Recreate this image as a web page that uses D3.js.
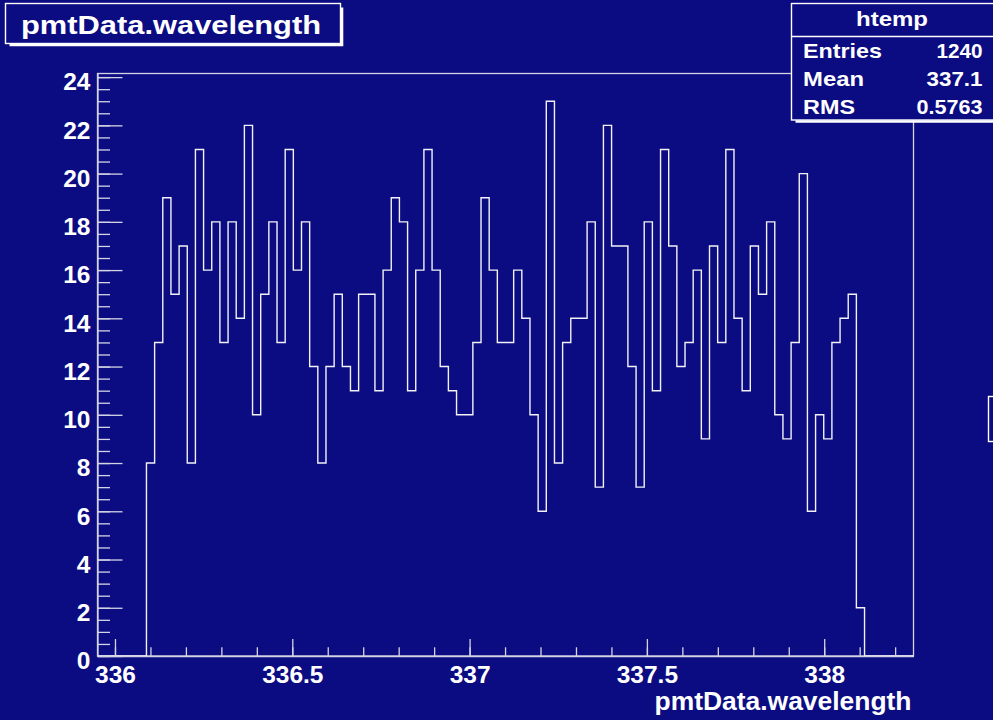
<!DOCTYPE html>
<html>
<head>
<meta charset="utf-8">
<script src="https://cdn.jsdelivr.net/npm/d3@7/dist/d3.min.js"></script>
<style>
  html, body { margin: 0; padding: 0; background: #0b0b82; }
  svg { display: block; }
  text { font-family: "Liberation Sans", Arial, Helvetica, sans-serif; font-weight: bold; fill: #ffffff; }
</style>
</head>
<body>
<div id="chart"></div>
<script>
// histogram range (100 bins), as in the ROOT "htemp" histogram
const xMin = 335.9507;
const xMax = 338.2518;
const yMax = 24.15;

// bin contents (6 empty bins at each end)
const binCounts = [
  0, 0, 0, 0, 0, 0,
  8, 13, 19, 15, 17, 8, 21, 16, 18, 13,
  18, 14, 22, 10, 15, 18, 13, 21, 16, 18,
  12, 8, 12, 15, 12, 11, 15, 15, 11, 16,
  19, 18, 11, 16, 21, 16, 12, 11, 10, 10,
  13, 19, 16, 13, 13, 16, 14, 10, 6, 23,
  8, 13, 14, 14, 18, 7, 22, 17, 17, 12,
  7, 18, 11, 21, 17, 12, 13, 16, 9, 17,
  13, 21, 14, 11, 17, 15, 18, 10, 9, 13,
  20, 6, 10, 9, 13, 14, 15, 2,
  0, 0, 0, 0, 0, 0
];

const xMajorTicks = [336, 336.5, 337, 337.5, 338];
const yMajorTicks = [0, 2, 4, 6, 8, 10, 12, 14, 16, 18, 20, 22, 24];

const titleText = "pmtData.wavelength";
const xAxisTitle = "pmtData.wavelength";
const statsName = "htemp";
const statLabels = ["Entries", "Mean", "RMS"];
const statValues = ["1240", "337.1", "0.5763"];

const width = 993, height = 720;
const margin = { left: 97.5, right: 79.5, top: 73.5, bottom: 64 };
const bg = "#0b0b82";
const lineCol = "#d4d4e4";

const svg = d3.select("#chart").append("svg")
  .attr("width", width)
  .attr("height", height);

svg.append("rect")
  .attr("width", width)
  .attr("height", height)
  .attr("fill", bg);

const x = d3.scaleLinear().domain([xMin, xMax]).range([margin.left, width - margin.right]);
const y = d3.scaleLinear().domain([0, yMax]).range([height - margin.bottom, margin.top]);

// frame
svg.append("rect")
  .attr("x", x(xMin))
  .attr("y", y(yMax))
  .attr("width", x(xMax) - x(xMin))
  .attr("height", y(0) - y(yMax))
  .attr("fill", "none")
  .attr("stroke", lineCol)
  .attr("stroke-width", 1.3);

// histogram outline
const binW = (xMax - xMin) / binCounts.length;
const pts = binCounts.map((c, i) => [xMin + i * binW, c]);
pts.push([xMax, binCounts[binCounts.length - 1]]);

svg.append("path")
  .datum(pts)
  .attr("fill", "none")
  .attr("stroke", "#f2f2f6")
  .attr("stroke-width", 1.4)
  .attr("d", d3.line()
    .x(d => x(d[0]))
    .y(d => y(d[1]))
    .curve(d3.curveStepAfter));

// faint blurred dark smear near the bottom of the plot
const defs = svg.append("defs");
defs.append("filter")
  .attr("id", "smear")
  .attr("x", "-20%").attr("y", "-300%")
  .attr("width", "140%").attr("height", "700%")
  .append("feGaussianBlur")
  .attr("stdDeviation", "3 0.8");

svg.append("line")
  .attr("x1", x(337.6)).attr("x2", x(337.88))
  .attr("y1", y(1.2)).attr("y2", y(1.2))
  .attr("stroke", "#000028")
  .attr("stroke-width", 2)
  .attr("opacity", 0.6)
  .attr("filter", "url(#smear)");

// y axis: ticks inside, labels outside
const yMinor = d3.range(0, yMax, 0.5);
svg.append("g")
  .attr("transform", `translate(${x(xMin)},0)`)
  .call(d3.axisLeft(y).tickValues(yMinor).tickSize(-12.5).tickSizeOuter(0).tickFormat(""))
  .call(g => g.select(".domain").remove())
  .call(g => g.selectAll("line").attr("stroke", lineCol).attr("stroke-width", 1.3));

svg.append("g")
  .attr("transform", `translate(${x(xMin)},0)`)
  .call(d3.axisLeft(y).tickValues(yMajorTicks).tickSize(-25).tickSizeOuter(0).tickPadding(7).tickFormat(d3.format("d")))
  .call(g => g.select(".domain").attr("stroke", lineCol).attr("stroke-width", 1.3))
  .call(g => g.selectAll("line").attr("stroke", lineCol).attr("stroke-width", 1.3))
  .call(g => g.selectAll("text")
    .attr("dy", "0.52em")
    .attr("font-size", 24.5)
    .attr("font-family", null)
    .attr("fill", "#ffffff"));

// x axis: ticks pointing up, labels below
const xMinor = d3.range(3359, 3383).map(v => v / 10).filter(v => v > xMin && v < xMax);
svg.append("g")
  .attr("transform", `translate(0,${y(0)})`)
  .call(d3.axisBottom(x).tickValues(xMinor).tickSize(-8.7).tickSizeOuter(0).tickFormat(""))
  .call(g => g.select(".domain").remove())
  .call(g => g.selectAll("line").attr("stroke", lineCol).attr("stroke-width", 1.3));

svg.append("g")
  .attr("transform", `translate(0,${y(0)})`)
  .call(d3.axisBottom(x).tickValues(xMajorTicks).tickSize(-17).tickSizeOuter(0).tickFormat(d3.format("")))
  .call(g => g.select(".domain").attr("stroke", lineCol).attr("stroke-width", 1.3))
  .call(g => g.selectAll("line").attr("stroke", lineCol).attr("stroke-width", 1.3))
  .call(g => g.selectAll("text")
    .attr("y", 27)
    .attr("dy", null)
    .attr("font-size", 24.5)
    .attr("font-family", null)
    .attr("fill", "#ffffff"));

// x axis title, right aligned with the frame
svg.append("text")
  .attr("x", x(xMax) - 2)
  .attr("y", 710)
  .attr("text-anchor", "end")
  .attr("font-size", 26)
  .attr("textLength", 257)
  .attr("lengthAdjust", "spacingAndGlyphs")
  .text(xAxisTitle);

// pave with a shadow on the right and bottom
function pave(px, py, pw, ph) {
  svg.append("rect")
    .attr("x", px).attr("y", py)
    .attr("width", pw).attr("height", ph)
    .attr("fill", bg)
    .attr("stroke", "#ffffff")
    .attr("stroke-width", 1.4);
  svg.append("path")
    .attr("d", `M${px + 4},${py + ph + 1.5} H${px + pw + 1.5} V${py + 4}`)
    .attr("fill", "none")
    .attr("stroke", "#ffffff")
    .attr("stroke-width", 2.6);
}

// title box
pave(5.5, 3.5, 335, 40);
svg.append("text")
  .attr("x", 21)
  .attr("y", 33.5)
  .attr("font-size", 26)
  .attr("textLength", 300)
  .attr("lengthAdjust", "spacingAndGlyphs")
  .text(titleText);

// stats box
pave(791.5, 3.5, 230, 116.5);
svg.append("line")
  .attr("x1", 791.5).attr("x2", width)
  .attr("y1", 36.5).attr("y2", 36.5)
  .attr("stroke", "#ffffff")
  .attr("stroke-width", 1.4);

svg.append("text")
  .attr("x", 892)
  .attr("y", 26)
  .attr("text-anchor", "middle")
  .attr("font-size", 21)
  .attr("textLength", 72)
  .attr("lengthAdjust", "spacingAndGlyphs")
  .text(statsName);

const labelW = [79, 61, 52];
const valueW = [46, 56, 66];
statLabels.forEach((lab, i) => {
  const by = 57.5 + i * 28;
  svg.append("text")
    .attr("x", 803)
    .attr("y", by)
    .attr("font-size", 20.5)
    .attr("textLength", labelW[i])
    .attr("lengthAdjust", "spacingAndGlyphs")
    .text(lab);
  svg.append("text")
    .attr("x", 982.5)
    .attr("y", by)
    .attr("text-anchor", "end")
    .attr("font-size", 20.5)
    .attr("textLength", valueW[i])
    .attr("lengthAdjust", "spacingAndGlyphs")
    .text(statValues[i]);
});

// edge of another pave, cut by the right border
svg.append("rect")
  .attr("x", 988.5).attr("y", 396.5)
  .attr("width", 20).attr("height", 45)
  .attr("fill", "none")
  .attr("stroke", "#ffffff")
  .attr("stroke-width", 1.4);
</script>
</body>
</html>
